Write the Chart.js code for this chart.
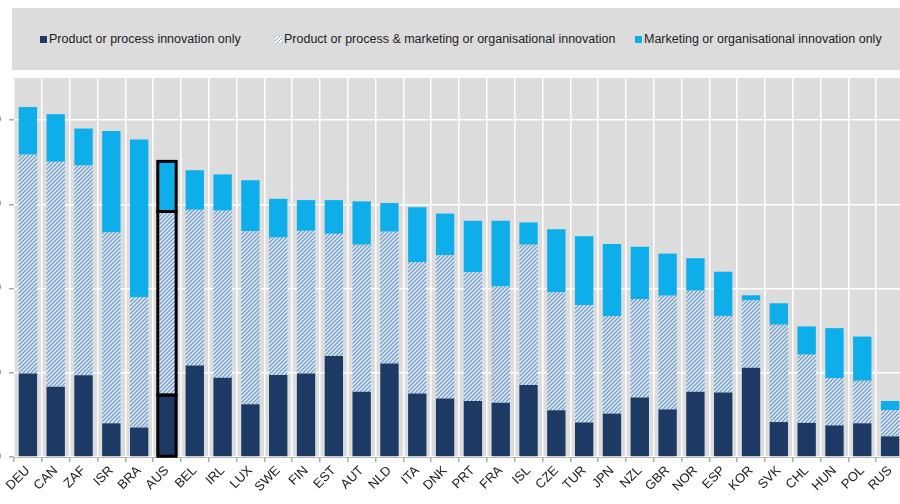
<!DOCTYPE html>
<html>
<head>
<meta charset="utf-8">
<script src="https://cdn.jsdelivr.net/npm/chart.js@4.4.1/dist/chart.umd.min.js"></script>
<style>
  html, body { margin: 0; padding: 0; background: #fff; }
  #wrap { position: relative; width: 900px; height: 504px; overflow: hidden; }
  #legend {
    position: absolute; left: 12px; top: 8px; width: 900px; height: 62px;
    background: #dcdcdc; display: flex; align-items: center;
    font-family: "Liberation Sans", Arial, sans-serif; font-size: 12.5px; color: #222;
  }
  #legend .item { position: absolute; display: flex; align-items: center; white-space: nowrap; }
  #legend .box { width: 7px; height: 7px; margin-right: 2px; }
  #chartBox { position: absolute; left: -20px; top: 0; width: 930px; height: 504px; }
</style>
</head>
<body>
<div id="wrap">
  <div id="chartBox"><canvas id="barChart"></canvas></div>
  <div id="legend"></div>
</div>
<script>
// data (% of firms)
const countries = ['DEU', 'CAN', 'ZAF', 'ISR', 'BRA', 'AUS', 'BEL', 'IRL', 'LUX', 'SWE', 'FIN', 'EST', 'AUT', 'NLD', 'ITA', 'DNK',
    'PRT', 'FRA', 'ISL', 'CZE', 'TUR', 'JPN', 'NZL', 'GBR', 'NOR', 'ESP', 'KOR', 'SVK', 'CHL', 'HUN', 'POL', 'RUS'];
const productOnly = [19.8, 16.7, 19.4, 8.0, 7.0, 14.7, 21.7, 18.8, 12.5, 19.5, 19.8, 24.0, 15.5, 22.2, 15.1, 13.9,
    13.3, 12.9, 17.1, 11.1, 8.2, 10.3, 14.1, 11.3, 15.5, 15.3, 21.2, 8.3, 8.1, 7.5, 8.0, 4.9];
const productAndMarketing = [52.0, 53.4, 49.8, 45.3, 31.0, 43.6, 37.0, 39.7, 41.1, 32.6, 33.9, 29.0, 34.9, 31.3, 31.2, 34.0,
    30.6, 27.6, 33.3, 28.0, 27.9, 23.2, 23.4, 27.0, 24.0, 18.2, 16.0, 23.1, 16.2, 11.2, 10.1, 6.2];
const marketingOnly = [11.3, 11.3, 8.8, 24.1, 37.4, 11.9, 9.4, 8.6, 12.1, 9.2, 7.3, 8.0, 10.3, 6.8, 13.0, 9.9,
    12.2, 15.6, 5.3, 15.0, 16.3, 17.1, 12.4, 10.0, 7.7, 10.5, 1.2, 5.1, 6.7, 11.9, 10.5, 2.2];
const yTicks = [0, 20, 40, 60, 80];
const seriesNames = ['Product or process innovation only',
    'Product or process & marketing or organisational innovation',
    'Marketing or organisational innovation only'];

const darkBlue = '#1c3a63';
const lightBlue = '#0eaeea';
const stripeBlue = '#7aa3db';
const highlight = 'AUS';

function makeHatch() {
    const c = document.createElement('canvas');
    c.width = 4; c.height = 4;
    const g = c.getContext('2d');
    g.fillStyle = '#ffffff';
    g.fillRect(0, 0, 4, 4);
    g.strokeStyle = stripeBlue;
    g.lineWidth = 1.7;
    g.beginPath();
    g.moveTo(-1, 5); g.lineTo(5, -1);
    g.moveTo(-1, 1); g.lineTo(1, -1);
    g.moveTo(3, 5); g.lineTo(5, 3);
    g.stroke();
    return c;
}
const hatch = document.createElement('canvas').getContext('2d').createPattern(makeHatch(), 'repeat');

// html legend
const legendPos = [28, 263, 623];
const legendFills = [darkBlue, 'hatch', lightBlue];
const legend = document.getElementById('legend');
seriesNames.forEach((name, i) => {
    const item = document.createElement('div');
    item.className = 'item';
    item.style.left = legendPos[i] + 'px';
    const box = document.createElement('span');
    box.className = 'box';
    if (legendFills[i] === 'hatch') {
        box.style.background = 'repeating-linear-gradient(-45deg, ' + stripeBlue + ' 0 1px, #fff 1px 3px)';
        box.style.outline = '1px solid #c9d8ee';
    } else {
        box.style.background = legendFills[i];
    }
    item.appendChild(box);
    item.appendChild(document.createTextNode(name));
    legend.appendChild(item);
});

const plotBackground = {
    id: 'plotBackground',
    beforeDraw(chart) {
        const { ctx, chartArea } = chart;
        ctx.save();
        ctx.fillStyle = '#dcdcdc';
        ctx.fillRect(chartArea.left, chartArea.top, chartArea.right - chartArea.left, chartArea.bottom - chartArea.top);
        ctx.restore();
    }
};

// black frame round the highlighted country's stack, taken from the bar elements
const highlightFrame = {
    id: 'highlightFrame',
    afterDatasetsDraw(chart) {
        const i = countries.indexOf(highlight);
        const ctx = chart.ctx;
        ctx.save();
        ctx.strokeStyle = '#000';
        ctx.lineWidth = 3;
        chart.data.datasets.forEach((d, di) => {
            const bar = chart.getDatasetMeta(di).data[i];
            const half = bar.width / 2;
            ctx.strokeRect(bar.x - half, bar.y, bar.width, bar.base - bar.y);
        });
        ctx.restore();
    }
};

new Chart(document.getElementById('barChart'), {
    type: 'bar',
    data: {
        labels: countries,
        datasets: [
            { label: seriesNames[0], data: productOnly, backgroundColor: darkBlue },
            { label: seriesNames[1], data: productAndMarketing, backgroundColor: hatch },
            { label: seriesNames[2], data: marketingOnly, backgroundColor: lightBlue }
        ].map(d => Object.assign(d, {
            borderWidth: 0,
            barPercentage: 0.66,
            categoryPercentage: 1
        }))
    },
    options: {
        responsive: true,
        maintainAspectRatio: false,
        animation: false,
        layout: { padding: { top: 78, left: 0, right: 6, bottom: 0 } },
        plugins: {
            legend: { display: false },
            tooltip: { enabled: false }
        },
        scales: {
            x: {
                stacked: true,
                grid: { color: '#ffffff', lineWidth: 1.5, tickColor: '#aaaaaa', tickLength: 5 },
                border: { color: '#bbbbbb' },
                ticks: {
                    minRotation: 45, maxRotation: 45, autoSkip: false, padding: 1,
                    color: '#222', font: { family: '"Liberation Sans", Arial, sans-serif', size: 13 }
                },
                afterFit: scale => { scale.height = 47; }
            },
            y: {
                stacked: true,
                min: 0,
                max: 90,
                afterBuildTicks: scale => { scale.ticks = yTicks.map(v => ({ value: v })); },
                grid: { color: '#ffffff', lineWidth: 1.5, tickColor: '#aaaaaa', tickLength: 5 },
                border: { display: false },
                ticks: {
                    padding: 8, color: '#222',
                    font: { family: '"Liberation Sans", Arial, sans-serif', size: 14 }
                },
                afterFit: scale => { scale.width = 34; }
            }
        }
    },
    plugins: [plotBackground, highlightFrame]
});
</script>
</body>
</html>
